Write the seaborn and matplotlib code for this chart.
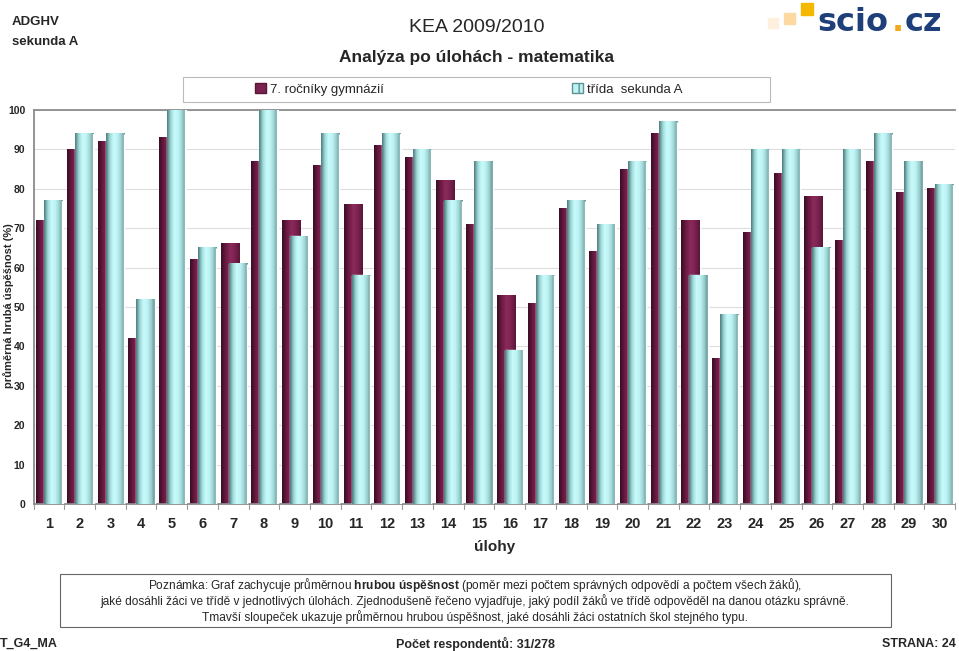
import numpy as np
import matplotlib
matplotlib.use("Agg")
import matplotlib.pyplot as plt
from matplotlib.colors import LinearSegmentedColormap
from matplotlib.patches import Patch, Rectangle
import seaborn as sns

# ── Data ───────────────────────────────────────────────────────────────────────
TASKS = [str(i) for i in range(1, 31)]
GYM_VALUES = [72, 90, 92, 42, 93, 62, 66, 87, 72, 86, 76, 91, 88, 82, 71,
              53, 51, 75, 64, 85, 94, 72, 37, 69, 84, 78, 67, 87, 79, 80]
CLASS_VALUES = [77, 94, 94, 52, 100, 65, 61, 100, 68, 94, 58, 94, 90, 77, 87,
                39, 58, 77, 71, 87, 97, 58, 48, 90, 90, 65, 90, 94, 87, 81]
Y_TICKS = list(range(0, 101, 10))
LEGEND_LABELS = ["7. ročníky gymnázií", "třída  sekunda A"]

# ── Style ──────────────────────────────────────────────────────────────────────
sns.set_style("white")
plt.rcParams["font.family"] = ["Liberation Sans", "DejaVu Sans"]
plt.rcParams["mathtext.fontset"] = "custom"
plt.rcParams["mathtext.rm"] = "Liberation Sans"
plt.rcParams["mathtext.bf"] = "Liberation Sans:bold"

DARK_CMAP = LinearSegmentedColormap.from_list(
    "dark", ["#3a0d26", "#6b1a42", "#8c2a5c", "#7a2250", "#5a1537"])
LIGHT_CMAP = LinearSegmentedColormap.from_list(
    "light", ["#4c7c7e", "#9fd8d8", "#c8fbfb", "#bff2f2", "#9ed3d3", "#5f9292"])

fig = plt.figure(figsize=(9.59, 6.51), dpi=100)
ax = fig.add_axes([0.035, 0.2258, 0.961, 0.6052])

sns.barplot(x=TASKS, y=GYM_VALUES, order=TASKS, color="#7a2250",
            errorbar=None, width=0.59, ax=ax, zorder=2)
n_dark = len(ax.patches)
sns.barplot(x=TASKS, y=CLASS_VALUES, order=TASKS, color="#bff2f2",
            errorbar=None, width=0.59, ax=ax, zorder=3)

grad = np.linspace(0, 1, 64).reshape(1, -1)
for k, p in enumerate(ax.patches):
    dark = k < n_dark
    p.set_x(p.get_x() + (-0.115 if dark else 0.145))
    x0, w, h = p.get_x(), p.get_width(), p.get_height()
    ax.imshow(grad, cmap=DARK_CMAP if dark else LIGHT_CMAP, aspect="auto",
              extent=(x0, x0 + w, 0, h), zorder=2.5 if dark else 3.5,
              interpolation="bilinear")
    if not dark:
        ax.add_patch(Rectangle((x0 + w, 0), 0.012, h, color="white", zorder=3.6))

ax.set_xlim(-0.5, 29.5)
ax.set_ylim(0, 100)
ax.set_yticks(Y_TICKS)
ax.set_yticklabels([str(t) for t in Y_TICKS], fontsize=7.5, fontweight="bold")
ax.tick_params(axis="x", labelsize=10.5, pad=9, length=0)
for lbl in ax.get_xticklabels():
    lbl.set_fontweight("bold")
ax.tick_params(axis="y", length=3, color="#888888", pad=3)
ax.grid(axis="y", color="#dddddd", linewidth=0.8, zorder=0)
ax.set_axisbelow(True)
ax.spines["right"].set_visible(False)
for side in ["left", "bottom", "top"]:
    ax.spines[side].set_color("#8c8c8c")
    ax.spines[side].set_linewidth(1.3)
ax.set_xlabel("úlohy", fontsize=11, fontweight="bold", labelpad=7)
ax.set_ylabel("")
for i in range(31):
    ax.plot([i - 0.5, i - 0.5], [0, -1.2], color="#999999", lw=0.8, clip_on=False)

fig.text(0.009, 0.531, "průměrná hrubá úspěšnost (%)", fontsize=8, fontweight="bold",
         rotation=90, ha="center", va="center")

# legend: frame + one entry centred in each half
fig.patches.append(Rectangle((0.1908, 0.8433), 0.612, 0.0384, transform=fig.transFigure,
                             facecolor="white", edgecolor="#bbbbbb", lw=0.8))
handles = [Patch(facecolor="#7a2250", edgecolor="#5a1537"),
           Patch(facecolor="#bff2f2", edgecolor="#5f9292", hatch="||")]
for h, lab, xc in zip(handles, LEGEND_LABELS, [0.333, 0.654]):
    fig.legend([h], [lab], loc="center", bbox_to_anchor=(xc, 0.8625), fontsize=9.5,
               frameon=False, handlelength=0.8, handleheight=0.8, handletextpad=0.3,
               borderpad=0.2)

# ── Header texts ───────────────────────────────────────────────────────────────
fig.text(0.0125, 0.966, "ADGHV", fontsize=9.5, fontweight="bold", va="center")
fig.text(0.0125, 0.935, "sekunda A", fontsize=9.5, fontweight="bold", va="center")
fig.text(0.497, 0.958, "KEA 2009/2010", fontsize=14, ha="center", va="center")
fig.text(0.497, 0.911, "Analýza po úlohách - matematika", fontsize=12.5,
         fontweight="bold", ha="center", va="center")

# logo
for (x, y, w, hh, c) in [(0.8008, 0.957, 0.0104, 0.0154, "#fdf0dc"),
                         (0.8175, 0.963, 0.0115, 0.0169, "#fcd9a0"),
                         (0.8350, 0.977, 0.0125, 0.0184, "#f5b800")]:
    fig.patches.append(Rectangle((x, y), w, hh, transform=fig.transFigure,
                                 color=c, zorder=1))
fig.text(0.852, 0.966, "scio", fontsize=23, fontweight="bold", color="#1f3f7a",
         va="center", family="DejaVu Sans")
fig.text(0.930, 0.966, ".", fontsize=23, fontweight="bold", color="#f4a81c",
         va="center", family="DejaVu Sans")
fig.text(0.943, 0.966, "cz", fontsize=23, fontweight="bold", color="#1f3f7a",
         va="center", family="DejaVu Sans")

# ── Note box ───────────────────────────────────────────────────────────────────
fig.patches.append(Rectangle((0.0626, 0.037), 0.866, 0.082,
                             transform=fig.transFigure, facecolor="white",
                             edgecolor="#666666", lw=0.8))
fig.text(0.495, 0.102, "Poznámka: Graf zachycuje průměrnou $\\bf{hrubou\\ úspěšnost}$ "
         "(poměr mezi počtem správných odpovědí a počtem všech žáků),",
         fontsize=8.6, ha="center", va="center")
fig.text(0.495, 0.077, "jaké dosáhli žáci ve třídě v jednotlivých úlohách. Zjednodušeně "
         "řečeno vyjadřuje, jaký podíl žáků ve třídě odpověděl na danou otázku správně.",
         fontsize=8.6, ha="center", va="center")
fig.text(0.495, 0.052, "Tmavší sloupeček ukazuje průměrnou hrubou úspěšnost, jaké "
         "dosáhli žáci ostatních škol stejného typu.",
         fontsize=8.6, ha="center", va="center")

# footer
fig.text(0.0, 0.011, "T_G4_MA", fontsize=9, fontweight="bold", va="center")
fig.text(0.496, 0.011, "Počet respondentů: 31/278", fontsize=9, fontweight="bold",
         ha="center", va="center")
fig.text(0.997, 0.011, "STRANA: 24", fontsize=9, fontweight="bold", ha="right",
         va="center")

fig.savefig("out.png", dpi=100)
